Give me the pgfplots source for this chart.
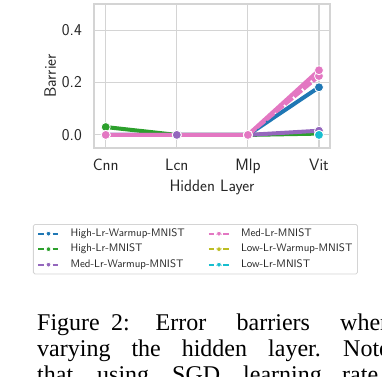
\documentclass[border=0pt]{standalone}
\usepackage{pgfplots}
\pgfplotsset{compat=1.18}
\usepackage{fontspec}
\newfontfamily\capfont{Liberation Serif}
\definecolor{cblue}{HTML}{1F77B4}
\definecolor{cgreen}{HTML}{2CA02C}
\definecolor{cpurple}{HTML}{9467BD}
\definecolor{cpink}{HTML}{E377C2}
\definecolor{colive}{HTML}{BCBD22}
\definecolor{ccyan}{HTML}{17BECF}
\definecolor{gridgray}{HTML}{D4D4D4}
\begin{document}
\begin{tikzpicture}[x=1pt,y=1pt]
\useasboundingbox (0,0) rectangle (382,376);
\clip (0,0) rectangle (382,376);
\begin{axis}[
  at={(94pt,228pt)}, anchor=south west,
  scale only axis, width=236pt, height=144pt,
  xmin=-0.165, xmax=3.155, ymin=-0.05, ymax=0.5,
  xtick={0,1,2,3}, xticklabels={Cnn,Lcn,Mlp,Vit},
  ytick={0,0.2,0.4}, yticklabels={0.0,0.2,0.4},
  major tick length=0pt,
  grid=major,
  major grid style={gridgray, line width=1.1pt},
  axis line style={gridgray, line width=1.3pt},
  tick label style={font=\sffamily\fontsize{16.5}{18}\selectfont, text=black!85, inner sep=0pt},
  xticklabel style={anchor=north, yshift=-11pt},
  yticklabel style={anchor=east, xshift=-12pt},
  xlabel={Hidden Layer}, ylabel={Barrier},
  label style={font=\sffamily\fontsize{16.5}{18}\selectfont, text=black!85, inner sep=0pt},
  xlabel style={at={(axis description cs:0.5,-0.222)}, anchor=north},
  ylabel style={at={(axis description cs:-0.1856,0.5)}, anchor=center},
  every axis plot/.append style={line width=4pt, mark=*, mark size=4.5pt},
  legend columns=3, transpose legend,
  legend cell align=left,
  legend style={at={(rel axis cs:-0.2585,-0.528)}, anchor=north west,
    draw=gridgray, line width=0.8pt, rounded corners=1.5pt, inner xsep=4pt, inner ysep=3pt,
    font=\sffamily\fontsize{10.9}{12}\selectfont, text=black!85,
    nodes={inner sep=1pt, text height=8pt, text depth=2.5pt, anchor=west},
    row sep=3pt,
    /tikz/every odd column/.append style={column sep=10pt},
    /tikz/every even column/.append style={column sep=22pt}},
  legend image code/.code={
    \draw[#1, line width=2.2pt, dash pattern=on 5.5pt off 1.6pt, mark size=2.4pt, mark repeat=2, mark phase=2]
      plot coordinates {(0pt,0pt) (10pt,0pt) (20pt,0pt)};
  },
]
\addplot[cblue, mark options={fill=cblue, draw=white, line width=0.8pt, solid}]
  coordinates {(0,0) (1,0) (2,0) (3,0.182)};
\addlegendentry{High-Lr-Warmup-MNIST}
\addplot[cgreen, mark options={fill=cgreen, draw=white, line width=0.8pt, solid}]
  coordinates {(0,0.030) (1,0) (2,0) (3,0.005)};
\addlegendentry{High-Lr-MNIST}
\addplot[cpurple, mark options={fill=cpurple, draw=white, line width=0.8pt, solid}]
  coordinates {(0,0) (1,0) (2,0) (3,0.016)};
\addlegendentry{Med-Lr-Warmup-MNIST}
\addplot[cpink, dash pattern=on 10pt off 2pt, forget plot, mark options={fill=cpink, draw=white, line width=0.8pt, solid}]
  coordinates {(2,0) (3,0.225)};
\addplot[cpink, mark options={fill=cpink, draw=white, line width=0.8pt, solid}]
  coordinates {(0,0) (2,0) (3,0.247)};
\addlegendentry{Med-Lr-MNIST}
\addplot[colive, mark options={fill=colive, draw=white, line width=0.8pt, solid}]
  coordinates {(3,0)};
\addlegendentry{Low-Lr-Warmup-MNIST}
\addplot[ccyan, mark options={fill=ccyan, draw=white, line width=0.8pt, solid}]
  coordinates {(3,0)};
\addlegendentry{Low-Lr-MNIST}
\end{axis}
\begin{scope}[every node/.style={anchor=base west, inner sep=0pt, font=\capfont\fontsize{24}{26}\selectfont}]
\node at (37,45.3) {Figure};
\node at (111,45.3) {2:};
\node at (155.5,45.3) {Error};
\node at (236.5,45.3) {barriers};
\node at (340,45.3) {when};
\node at (37,19.3) {varying};
\node at (131.3,19.3) {the};
\node at (181.6,19.3) {hidden};
\node at (268,19.3) {layer.};
\node at (343,19.3) {Note};
\node at (37,-6.7) {that};
\node at (97,-6.7) {using};
\node at (172,-6.7) {SGD};
\node at (243,-6.7) {learning};
\node at (342,-6.7) {rate};
\end{scope}
\end{tikzpicture}
\end{document}
